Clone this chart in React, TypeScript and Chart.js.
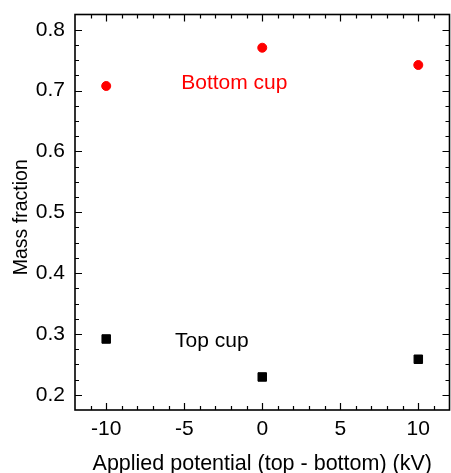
import React, { useEffect, useRef } from "react";
import { Chart, registerables } from "chart.js";

Chart.register(...registerables);

// ---- data ----
const potentials = [-10, 0, 10];
const bottomCup = [0.7075, 0.7704, 0.742];
const topCup = [0.2917, 0.2293, 0.2584];

// ---- axes ----
const xMajorTicks = [-10, -5, 0, 5, 10];
const yMajorTicks = [0.2, 0.3, 0.4, 0.5, 0.6, 0.7, 0.8];
const xRange = [-12, 12];
const yRange = [0.175, 0.825];
const xMinorStep = 1;
const yMinorStep = 0.025;
const xTitle = "Applied potential (top - bottom) (kV)";
const yTitle = "Mass fraction";

// ---- in-plot labels ----
const annotationTexts = ["Bottom cup", "Top cup"];
const annotationX = [-1.79, -3.23];
const annotationY = [0.7026, 0.278];
const annotationColors = ["#ff0000", "#000000"];

const FONT = '"Liberation Sans", Arial, Helvetica, sans-serif';
const FONT_SIZE = 21;

const zeroPad = (s: any) => {
  s.paddingTop = 0;
  s.paddingBottom = 0;
  s.paddingLeft = 0;
  s.paddingRight = 0;
};

const framePlugin = {
  id: "frameTicks",
  afterLayout(chart: any) {
    // plot frame reaches the right edge of the canvas
    const target = chart.width - 1.5;
    const ca = chart.chartArea;
    ca.right = target;
    ca.width = target - ca.left;
    const xs = chart.scales.x;
    xs.right = target;
    xs.width = target - xs.left;
    xs.configure();
  },
  beforeDatasetsDraw(chart: any) {
    const { ctx, chartArea } = chart;
    const { left, right, top, bottom } = chartArea;
    const xs = chart.scales.x;
    const ys = chart.scales.y;
    ctx.save();
    ctx.strokeStyle = "#000";
    ctx.lineWidth = 1.2;
    ctx.beginPath();
    const nx = Math.round((xRange[1] - xRange[0]) / xMinorStep);
    for (let i = 1; i < nx; i++) {
      const v = xRange[0] + i * xMinorStep;
      const major = xMajorTicks.some((m) => Math.abs(m - v) < 1e-6);
      const len = major ? 7 : 4;
      const px = Math.round(xs.getPixelForValue(v)) + 0.5;
      ctx.moveTo(px, bottom);
      ctx.lineTo(px, bottom - len);
      ctx.moveTo(px, top);
      ctx.lineTo(px, top + len);
    }
    const ny = Math.round((yRange[1] - yRange[0]) / yMinorStep);
    for (let i = 1; i < ny; i++) {
      const v = yRange[0] + i * yMinorStep;
      const major = yMajorTicks.some((m) => Math.abs(m - v) < 1e-6);
      const len = major ? 7 : 4;
      const py = Math.round(ys.getPixelForValue(v)) + 0.5;
      ctx.moveTo(left, py);
      ctx.lineTo(left + len, py);
      ctx.moveTo(right, py);
      ctx.lineTo(right - len, py);
    }
    ctx.stroke();
    ctx.lineWidth = 1.6;
    ctx.strokeRect(left, top, right - left, bottom - top);
    ctx.restore();
  },
  afterDatasetsDraw(chart: any) {
    const { ctx, chartArea } = chart;
    const xs = chart.scales.x;
    const ys = chart.scales.y;
    ctx.save();
    ctx.font = `${FONT_SIZE}px ${FONT}`;
    ctx.textAlign = "center";
    ctx.textBaseline = "alphabetic";
    annotationTexts.forEach((t, i) => {
      ctx.fillStyle = annotationColors[i];
      ctx.fillText(t, xs.getPixelForValue(annotationX[i]), ys.getPixelForValue(annotationY[i]));
    });
    // y-axis title
    ctx.translate(22, (chartArea.top + chartArea.bottom) / 2 + 5);
    ctx.rotate(-Math.PI / 2);
    ctx.font = `19.5px ${FONT}`;
    ctx.fillStyle = "#000";
    ctx.textAlign = "center";
    ctx.textBaseline = "middle";
    ctx.fillText(yTitle, 0, 0);
    ctx.restore();
  },
};

export default function App() {
  const canvasRef = useRef<HTMLCanvasElement | null>(null);

  useEffect(() => {
    const canvas = canvasRef.current;
    if (!canvas) return;
    const chart = new Chart(canvas, {
      type: "scatter",
      data: {
        datasets: [
          {
            label: "Bottom cup",
            data: potentials.map((x, i) => ({ x, y: bottomCup[i] })),
            pointStyle: "circle",
            pointRadius: 4.5,
            backgroundColor: "#ff0000",
            borderColor: "#ff0000",
            borderWidth: 1,
          },
          {
            label: "Top cup",
            data: potentials.map((x, i) => ({ x, y: topCup[i] })),
            pointStyle: "rect",
            pointRadius: 6,
            backgroundColor: "#000000",
            borderColor: "#000000",
            borderWidth: 1,
          },
        ],
      },
      options: {
        responsive: false,
        animation: false,
        layout: { padding: { top: 14.5, right: 1, left: 0, bottom: 0 } },
        plugins: {
          legend: { display: false },
          tooltip: { enabled: false },
        },
        scales: {
          x: {
            type: "linear",
            position: "bottom",
            min: xRange[0],
            max: xRange[1],
            afterBuildTicks: (s: any) => {
              s.ticks = xMajorTicks.map((v) => ({ value: v }));
            },
            afterFit: (s: any) => {
              s.height = 63;
              zeroPad(s);
            },
            grid: { display: false, drawTicks: false },
            border: { display: false },
            ticks: {
              color: "#000",
              font: { family: FONT, size: FONT_SIZE },
              padding: 7,
              maxRotation: 0,
              autoSkip: false,
              callback: (v: any) => String(v),
            },
            title: {
              display: true,
              text: xTitle,
              color: "#000",
              font: { family: FONT, size: 21.5 },
              padding: { top: 0, bottom: -3.5 },
            },
          },
          y: {
            type: "linear",
            min: yRange[0],
            max: yRange[1],
            afterBuildTicks: (s: any) => {
              s.ticks = yMajorTicks.map((v) => ({ value: v }));
            },
            afterFit: (s: any) => {
              s.width = 75;
              zeroPad(s);
            },
            grid: { display: false, drawTicks: false },
            border: { display: false },
            ticks: {
              color: "#000",
              font: { family: FONT, size: FONT_SIZE },
              padding: 10,
              autoSkip: false,
              callback: (v: any) => Number(v).toFixed(1),
            },
            title: { display: false },
          },
        },
      },
      plugins: [framePlugin],
    } as any);
    return () => chart.destroy();
  }, []);

  return (
    <div style={{ position: "absolute", left: 0, top: 0, width: 451, height: 473, background: "#fff" }}>
      <canvas ref={canvasRef} width={451} height={473} style={{ display: "block", width: 451, height: 473 }} />
    </div>
  );
}
